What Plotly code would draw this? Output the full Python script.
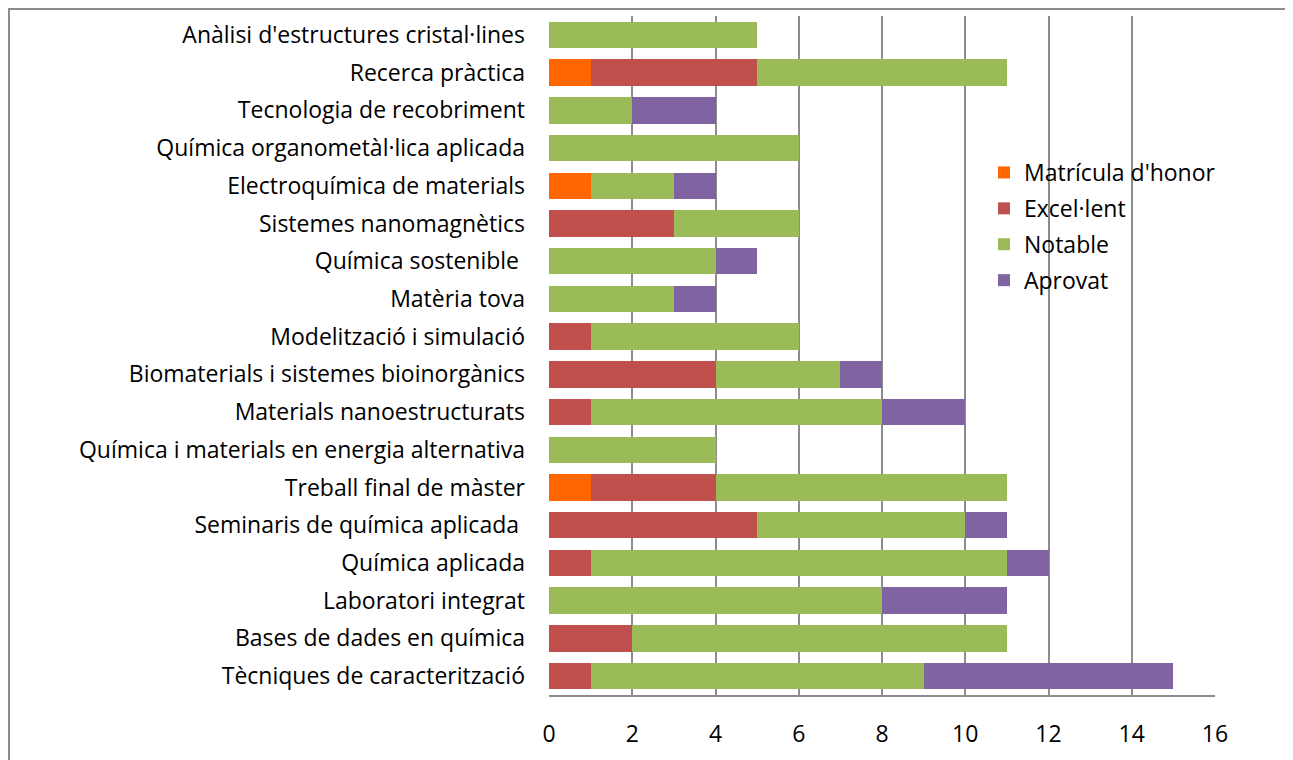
import plotly.graph_objects as go

categories = [
    "Tècniques de caracterització",
    "Bases de dades en química",
    "Laboratori integrat",
    "Química aplicada",
    "Seminaris de química aplicada ",
    "Treball final de màster",
    "Química i materials en energia alternativa",
    "Materials nanoestructurats",
    "Biomaterials i sistemes bioinorgànics",
    "Modelització i simulació",
    "Matèria tova",
    "Química sostenible ",
    "Sistemes nanomagnètics",
    "Electroquímica de materials",
    "Química organometàl·lica aplicada",
    "Tecnologia de recobriment",
    "Recerca pràctica",
    "Anàlisi d'estructures cristal·lines",
]
matricula = [0, 0, 0, 0, 0, 1, 0, 0, 0, 0, 0, 0, 0, 1, 0, 0, 1, 0]
excellent = [1, 2, 0, 1, 5, 3, 0, 1, 4, 1, 0, 0, 3, 0, 0, 0, 4, 0]
notable   = [8, 9, 8, 10, 5, 7, 4, 7, 3, 5, 3, 4, 3, 2, 6, 2, 6, 5]
aprovat   = [6, 0, 3, 1, 1, 0, 0, 2, 1, 0, 1, 1, 0, 1, 0, 2, 0, 0]
x_ticks = [0, 2, 4, 6, 8, 10, 12, 14, 16]

series = [
    ("Matrícula d'honor", matricula, "#FF6600"),
    ("Excel·lent", excellent, "#C0504D"),
    ("Notable", notable, "#9BBB59"),
    ("Aprovat", aprovat, "#8064A2"),
]

FONT = "Open Sans"
FS = 23
W, H = 1285, 752
L, R, T, B = 541, 78, 8, 65
fig = go.Figure()
for name, vals, col in series:
    fig.add_trace(go.Bar(
        y=categories, x=vals, name=name, orientation="h",
        legendgroup=name,
        marker=dict(color=col, line=dict(width=0)),
    ))

pw, ph = W - L - R, H - T - B
fig.update_layout(
    barmode="stack",
    bargap=0.3,
    width=W, height=H,
    margin=dict(l=L, r=R, t=T, b=B),
    paper_bgcolor="white", plot_bgcolor="white",
    font=dict(family=FONT, size=FS, color="black"),
    legend=dict(x=(984 - 8 - L) / pw, y=1 - (151 - 8 - T) / ph,
                xanchor="left", yanchor="top",
                xref="paper", yref="paper", traceorder="grouped",
                bgcolor="rgba(0,0,0,0)", font=dict(size=FS),
                tracegroupgap=3, itemwidth=30),
    xaxis=dict(range=[0, 16], tickvals=x_ticks, showgrid=True,
               gridcolor="#8C8C8C", gridwidth=2, zeroline=False,
               showline=True, linecolor="#8C8C8C", linewidth=2,
               ticks="", ticklabelstandoff=17, fixedrange=True),
    yaxis=dict(categoryorder="array", categoryarray=categories,
               range=[-0.5, 17.5], showgrid=False, zeroline=False,
               showline=False, ticks="", ticklabelstandoff=23),
    showlegend=True,
)
fig.add_shape(type="rect", xref="paper", yref="paper",
              x0=(1 - L) / pw, x1=(W - 2 - L) / pw,
              y0=-(B + 10) / ph, y1=1 + (T - 1) / ph,
              line=dict(color="#8C8C8C", width=2), layer="below")
fig.write_html("out.html")
